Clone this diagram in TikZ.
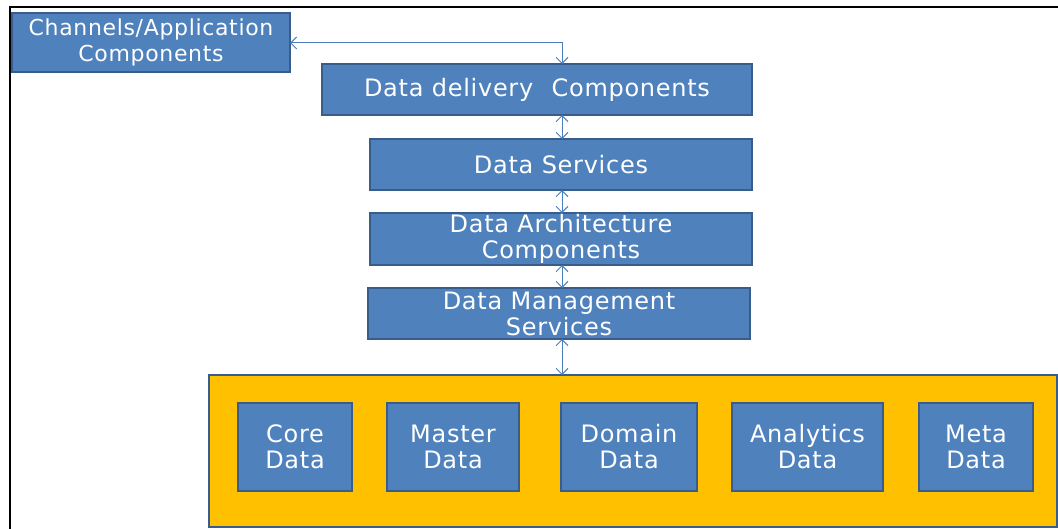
\documentclass[tikz,border=0pt]{standalone}
\usepackage{fontspec}
\newfontfamily\boxfont[LetterSpace=3]{DejaVu Sans}
\usetikzlibrary{arrows.meta}
\definecolor{boxblue}{HTML}{4F81BD}
\definecolor{boxedge}{HTML}{385D8A}
\definecolor{gold}{HTML}{FFC000}
\definecolor{arrowblue}{HTML}{4A7EBB}
\tikzset{
  blk/.style={draw=boxedge, line width=1.5pt, fill=boxblue, text=white,
    font=\boxfont\fontsize{24}{26}\selectfont, align=center,
    inner sep=0pt, outer sep=0pt},
  smallblk/.style={blk, font=\boxfont\fontsize{22}{26}\selectfont},
  store/.style={draw=boxedge, line width=1.5pt, fill=gold, inner sep=0pt, outer sep=0pt},
  link/.style={draw=arrowblue, line width=1pt,
    {Straight Barb[length=6pt,width=12pt]}-{Straight Barb[length=6pt,width=12pt]}},
}
\begin{document}
\begin{tikzpicture}[x=1pt,y=-1pt]
\useasboundingbox (0,0) rectangle (1058,529);
\fill[white] (0,0) rectangle (1058,529);
% frame
\draw[line width=2.2pt, black] (10,529) -- (10,7) -- (1058,7);
% nodes
\node[smallblk, minimum width=278pt, minimum height=59pt] (chan) at (151,42.5) {Channels/Application\\Components};
\node[blk, minimum width=430pt, minimum height=51pt] (deliv) at (537,89.5) {Data delivery\hspace{10pt} Components};
\node[blk, minimum width=382pt, minimum height=51pt] (serv) at (561,164.5) {Data Services};
\node[blk, minimum width=382pt, minimum height=52pt] (arch) at (561,239) {Data Architecture\\Components};
\node[blk, minimum width=382pt, minimum height=51pt] (mgmt) at (559,313.5) {Data Management\\Services};
\node[store, minimum width=848pt, minimum height=152pt] (pool) at (633,451) {};
\node[blk, minimum width=114pt, minimum height=88pt] (core) at (295,447) {Core\\Data};
\node[blk, minimum width=132pt, minimum height=88pt] (master) at (453,447) {Master\\Data};
\node[blk, minimum width=136pt, minimum height=88pt] (domain) at (629,447) {Domain\\Data};
\node[blk, minimum width=151pt, minimum height=88pt] (analytics) at (807.5,447) {Analytics\\Data};
\node[blk, minimum width=114pt, minimum height=88pt] (meta) at (976,447) {Meta\\Data};
% connectors
\coordinate (ax) at (562,0);
\draw[link] (chan.east |- 0,43) -| (deliv.north -| ax);
\draw[link] (deliv.south -| ax) -- (serv.north -| ax);
\draw[link] (serv.south -| ax) -- (arch.north -| ax);
\draw[link] (arch.south -| ax) -- (mgmt.north -| ax);
\draw[link] (mgmt.south -| ax) -- (pool.north -| ax);
\end{tikzpicture}
\end{document}
